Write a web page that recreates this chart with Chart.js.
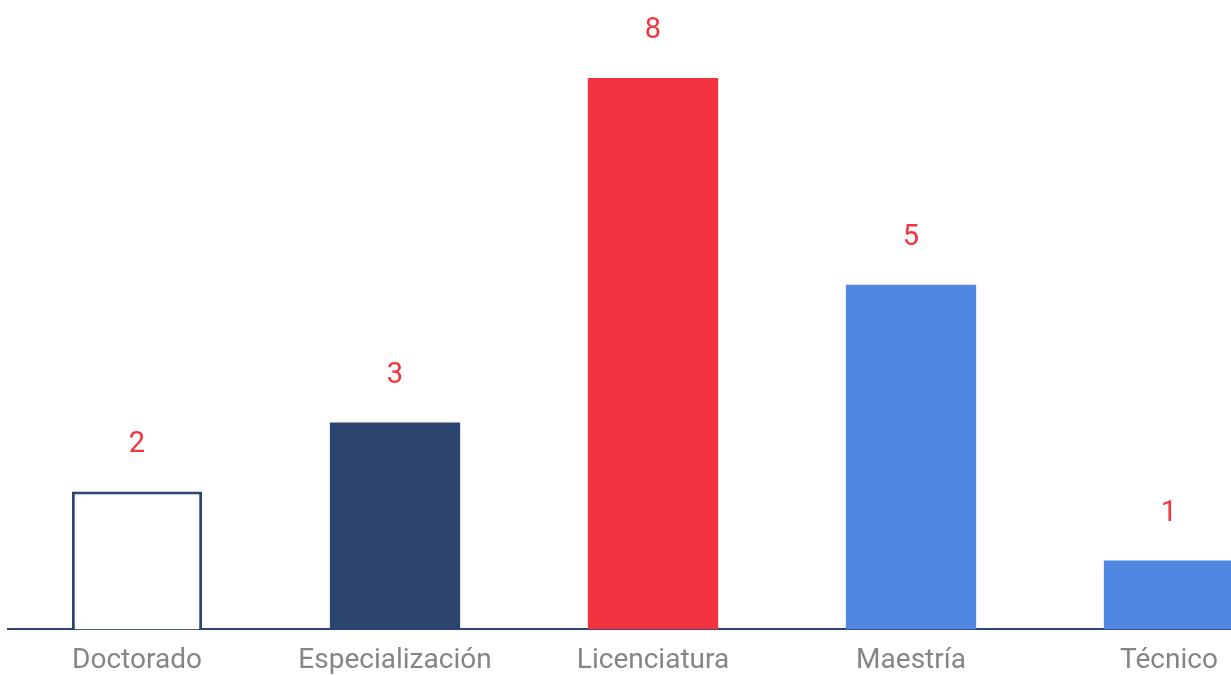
<!DOCTYPE html>
<html>
<head>
<meta charset="utf-8">
<script src="https://cdn.jsdelivr.net/npm/chart.js@4/dist/chart.umd.min.js"></script>
<style>
  html, body { margin: 0; padding: 0; background: #fff; overflow: hidden; }
  #wrap { width: 1231px; height: 675px; overflow: hidden; position: relative; }
  #box { width: 1298px; height: 693px; }
</style>
</head>
<body>
<div id="wrap"><div id="box"><canvas id="chart"></canvas></div></div>
<script>
const categories = ['Doctorado', 'Especialización', 'Licenciatura', 'Maestría', 'Técnico'];
const values = [2, 3, 8, 5, 1];
const fillColors = ['#ffffff', '#2c4570', '#f3333f', '#4f87e3', '#4f87e3'];
const borderColors = ['#2c4570', '#2c4570', '#f3333f', '#4f87e3', '#4f87e3'];
const borderWidths = [3, 0, 0, 0, 0];

// value labels above each bar
const valueLabels = {
  id: 'valueLabels',
  afterDatasetsDraw(chart) {
    const ctx = chart.ctx;
    const meta = chart.getDatasetMeta(0);
    ctx.save();
    ctx.fillStyle = '#f3333f';
    ctx.font = '29px Roboto';
    ctx.textAlign = 'center';
    ctx.textBaseline = 'middle';
    meta.data.forEach((bar, i) => {
      ctx.fillText(String(values[i]), bar.x, bar.y - 47);
    });
    ctx.restore();
  }
};

new Chart(document.getElementById('chart'), {
  type: 'bar',
  data: {
    labels: categories,
    datasets: [{
      data: values,
      backgroundColor: fillColors,
      borderColor: borderColors,
      borderWidth: borderWidths,
      categoryPercentage: 1,
      barPercentage: 0.505
    }]
  },
  options: {
    responsive: true,
    maintainAspectRatio: false,
    animation: false,
    devicePixelRatio: 1,
    layout: { padding: { left: 8, right: 0, top: 9, bottom: 0 } },
    plugins: { legend: { display: false }, tooltip: { enabled: false } },
    scales: {
      y: { display: false, min: 0, max: 9 },
      x: {
        grid: { display: false, drawTicks: false },
        border: { display: true, color: '#2c4570', width: 2 },
        ticks: { color: '#858585', font: { size: 28, family: 'Roboto' }, padding: 15, maxRotation: 0 }
      }
    }
  },
  plugins: [valueLabels]
});
</script>
</body>
</html>
